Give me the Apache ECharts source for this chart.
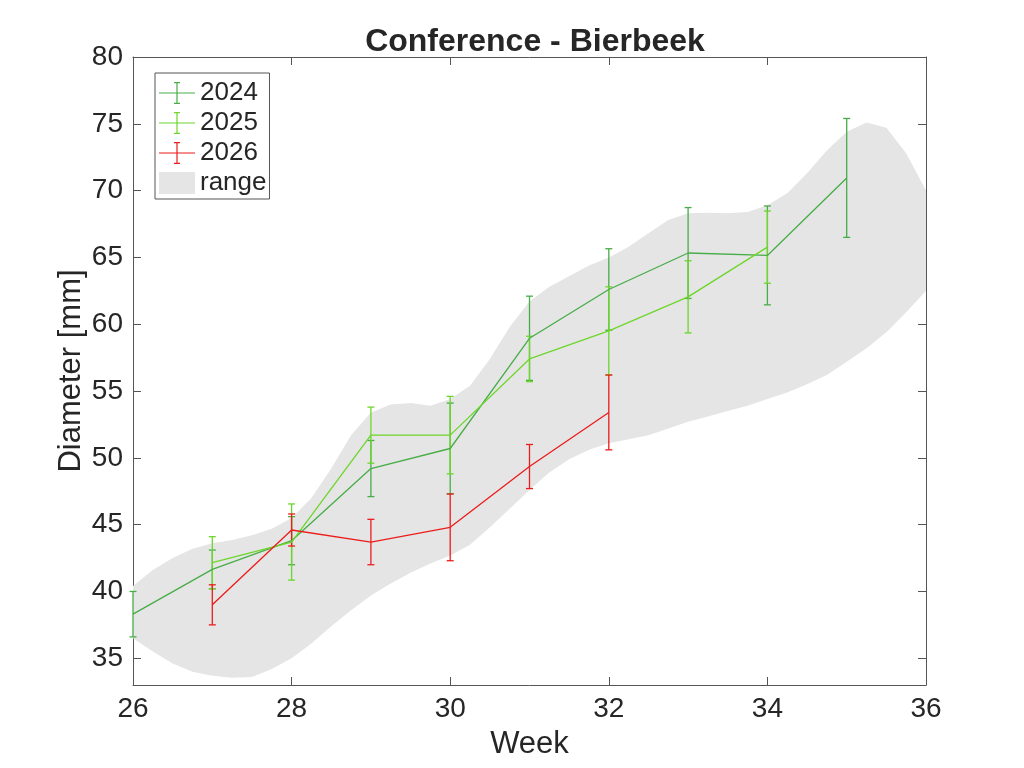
<!DOCTYPE html>
<html>
<head>
<meta charset="utf-8">
<title>Conference - Bierbeek</title>
<script src="https://cdn.jsdelivr.net/npm/echarts@6/dist/echarts.min.js"></script>
<style>
    html, body { margin: 0; padding: 0; background: #fff; }
    #chart { width: 1024px; height: 768px; }
</style>
</head>
<body>
<div id="chart"></div>
<script>
// 数据
var xTicks = [26, 28, 30, 32, 34, 36];
var yTicks = [35, 40, 45, 50, 55, 60, 65, 70, 75, 80];

var weeks2024 = [26, 27, 28, 29, 30, 31, 32, 33, 34, 35];
var mean2024 = [38.3, 41.65, 43.8, 49.2, 50.7, 58.95, 62.6, 65.33, 65.15, 70.95];
var err2024 = [1.7, 1.45, 1.8, 2.1, 3.4, 3.15, 3.05, 3.4, 3.7, 4.45];

var weeks2025 = [27, 28, 29, 30, 31, 32, 33, 34];
var mean2025 = [42.15, 43.7, 51.7, 51.7, 57.4, 59.5, 62.05, 65.77];
var err2025 = [1.95, 2.85, 2.1, 2.9, 1.7, 3.3, 2.7, 2.7];

var weeks2026 = [27, 28, 29, 30, 31, 32];
var mean2026 = [39.0, 44.6, 43.7, 44.8, 49.35, 53.4];
var err2026 = [1.5, 1.2, 1.7, 2.5, 1.65, 2.8];

// range 灰色区域 上下边界
var bandWeeks = [26, 26.25, 26.5, 26.75, 27, 27.25, 27.5, 27.75, 28, 28.25, 28.5, 28.75, 29, 29.25, 29.5, 29.75,
    30, 30.25, 30.5, 30.75, 31, 31.25, 31.5, 31.75, 32, 32.25, 32.5, 32.75, 33, 33.25, 33.5, 33.75,
    34, 34.25, 34.5, 34.75, 35, 35.25, 35.5, 35.75, 36];
var bandUpper = [40.4, 41.6, 42.5, 43.2, 43.6, 43.85, 44.2, 44.7, 45.5, 47.0, 49.2, 51.7, 53.4, 54.0, 54.1, 53.9,
    54.4, 55.4, 57.4, 59.8, 61.7, 62.8, 63.6, 64.4, 65.0, 65.8, 66.8, 67.8, 68.3, 68.35, 68.3, 68.4,
    68.9, 69.8, 71.3, 73.0, 74.4, 75.1, 74.7, 72.8, 70.0];
var bandLower = [36.5, 35.5, 34.6, 34.0, 33.7, 33.55, 33.6, 34.2, 35.0, 36.1, 37.4, 38.6, 39.7, 40.6, 41.4, 42.1,
    42.7, 43.5, 44.8, 46.2, 47.6, 48.9, 49.9, 50.6, 51.1, 51.4, 51.7, 52.2, 52.7, 53.1, 53.5, 53.9,
    54.4, 54.9, 55.5, 56.2, 57.2, 58.2, 59.4, 60.9, 62.5];

var colors = {
    '2024': '#47ad47',
    '2025': '#6cd62a',
    '2026': '#ec1c1c',
    'range': '#e5e5e5'
};
var textColor = '#262626';
var frameColor = '#555555';
var fontName = '"Liberation Sans", Arial, sans-serif';

// 图例里的误差棒图标
var errIcon = 'path://M0,10.4H36V11.6H0Z M17.4,0.6H18.6V21.4H17.4Z M15,0H21V1.2H15Z M15,20.8H21V22H15Z';

function pairs(xs, ys) {
    var out = [];
    for (var i = 0; i < xs.length; i++) {
        out.push([xs[i], ys[i]]);
    }
    return out;
}

// [x, 下, 上]
function rangeRows(xs, los, his) {
    var out = [];
    for (var i = 0; i < xs.length; i++) {
        out.push([xs[i], los[i], his[i]]);
    }
    return out;
}

function errSeries(name, xs, ms, es) {
    var color = colors[name];
    var los = [], his = [];
    for (var i = 0; i < ms.length; i++) {
        los.push(ms[i] - es[i]);
        his.push(ms[i] + es[i]);
    }
    return {
        type: 'custom',
        name: name + ' err',
        data: rangeRows(xs, los, his),
        encode: { x: 0, y: [1, 2] },
        z: 3,
        silent: true,
        renderItem: function(params, api) {
            var x = api.value(0);
            var lo = api.coord([x, api.value(1)]);
            var hi = api.coord([x, api.value(2)]);
            var w = 3.5;
            var st = { stroke: color, lineWidth: 1.3 };
            return {
                type: 'group',
                children: [
                    { type: 'line', shape: { x1: lo[0], y1: lo[1], x2: hi[0], y2: hi[1] }, style: st },
                    { type: 'line', shape: { x1: lo[0] - w, y1: lo[1], x2: lo[0] + w, y2: lo[1] }, style: st },
                    { type: 'line', shape: { x1: hi[0] - w, y1: hi[1], x2: hi[0] + w, y2: hi[1] }, style: st }
                ]
            };
        }
    };
}

function lineSeries(name, xs, ms) {
    return {
        type: 'line',
        name: name,
        data: pairs(xs, ms),
        symbol: 'none',
        color: colors[name],
        lineStyle: { width: 1.3, color: colors[name] },
        z: 4,
        silent: true
    };
}

// 灰色区域：上边界正向 + 下边界反向 组成多边形
var bandSeries = {
    type: 'custom',
    name: 'range',
    color: colors.range,
    data: rangeRows(bandWeeks, bandLower, bandUpper),
    encode: { x: 0, y: [1, 2] },
    z: 1,
    silent: true,
    renderItem: function(params, api) {
        if (params.dataIndex !== 0) {
            return null;
        }
        var pts = [];
        var i;
        for (i = 0; i < bandWeeks.length; i++) {
            pts.push(api.coord([bandWeeks[i], bandUpper[i]]));
        }
        for (i = bandWeeks.length - 1; i >= 0; i--) {
            pts.push(api.coord([bandWeeks[i], bandLower[i]]));
        }
        return {
            type: 'polygon',
            shape: { points: pts },
            style: { fill: colors.range, stroke: null }
        };
    }
};

var chart = echarts.init(document.getElementById('chart'));

var axisCommon = {
    axisLine: { show: true, lineStyle: { color: frameColor, width: 1 } },
    splitLine: { show: false }
};
var tickStyle = { color: frameColor, width: 1 };

chart.setOption({
    animation: false,
    backgroundColor: '#fff',
    title: {
        text: 'Conference - Bierbeek',
        left: 530,
        textAlign: 'center',
        top: 21,
        textStyle: { fontFamily: fontName, fontSize: 32, fontWeight: 'bold', color: textColor }
    },
    grid: { left: 133, right: 98, top: 57, bottom: 83 },
    legend: {
        left: 155,
        top: 73,
        orient: 'vertical',
        itemWidth: 36,
        itemHeight: 22,
        itemGap: 4,
        padding: [7, 3, 3, 4],
        borderColor: frameColor,
        borderWidth: 1,
        backgroundColor: '#fff',
        selectedMode: false,
        textStyle: { fontFamily: fontName, fontSize: 26, color: textColor },
        data: [
            { name: '2024', icon: errIcon, itemStyle: { color: colors['2024'], borderWidth: 0 } },
            { name: '2025', icon: errIcon, itemStyle: { color: colors['2025'], borderWidth: 0 } },
            { name: '2026', icon: errIcon, itemStyle: { color: colors['2026'], borderWidth: 0 } },
            { name: 'range', icon: 'rect', itemStyle: { color: colors.range, borderWidth: 0 } }
        ]
    },
    xAxis: [
        Object.assign({
            type: 'value',
            min: 26,
            max: 36,
            interval: 2,
            position: 'bottom',
            name: 'Week',
            nameLocation: 'middle',
            nameGap: 44,
            nameTextStyle: { fontFamily: fontName, fontSize: 31, color: textColor },
            axisTick: { inside: true, length: 8, lineStyle: tickStyle },
            axisLabel: {
                fontFamily: fontName, fontSize: 28, color: textColor, margin: 10,
                customValues: xTicks
            }
        }, axisCommon),
        Object.assign({
            type: 'value',
            min: 26,
            max: 36,
            interval: 2,
            position: 'top',
            axisTick: { inside: true, length: 8, lineStyle: tickStyle },
            axisLabel: { show: false }
        }, axisCommon)
    ],
    yAxis: [
        Object.assign({
            type: 'value',
            min: 33,
            max: 80,
            position: 'left',
            name: 'Diameter [mm]',
            nameLocation: 'middle',
            nameGap: 46,
            nameMoveOverlap: false,
            nameTextStyle: { fontFamily: fontName, fontSize: 31, color: textColor },
            axisTick: { inside: true, length: 8, lineStyle: tickStyle, customValues: yTicks },
            axisLabel: {
                fontFamily: fontName, fontSize: 28, color: textColor, margin: 10,
                customValues: yTicks
            }
        }, axisCommon),
        Object.assign({
            type: 'value',
            min: 33,
            max: 80,
            position: 'right',
            axisTick: { inside: true, length: 8, lineStyle: tickStyle, customValues: yTicks },
            axisLabel: { show: false, customValues: yTicks }
        }, axisCommon)
    ],
    series: [
        bandSeries,
        lineSeries('2024', weeks2024, mean2024),
        errSeries('2024', weeks2024, mean2024, err2024),
        lineSeries('2025', weeks2025, mean2025),
        errSeries('2025', weeks2025, mean2025, err2025),
        lineSeries('2026', weeks2026, mean2026),
        errSeries('2026', weeks2026, mean2026, err2026)
    ]
});
</script>
</body>
</html>
